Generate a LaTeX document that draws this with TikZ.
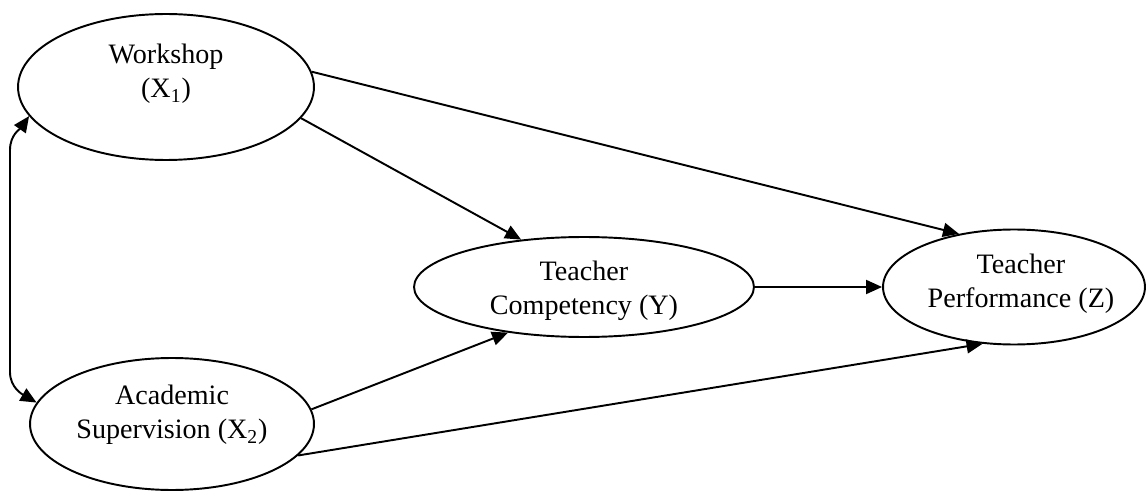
\documentclass[tikz,border=0pt]{standalone}
\usepackage{fontspec}
\setmainfont{Liberation Serif}
\usetikzlibrary{shapes.geometric,arrows.meta}
\tikzset{
  var/.style={draw, ellipse, line width=1.1pt, inner sep=0pt},
  lbl/.style={align=center, font=\fontsize{16}{19.6}\selectfont},
  link/.style={line width=1.1pt, -{Triangle[length=0.32cm,width=0.28cm]}},
  both/.style={line width=1.1pt, {Triangle[length=0.32cm,width=0.28cm]}-{Triangle[length=0.32cm,width=0.28cm]}}
}
\begin{document}
\begin{tikzpicture}[x=0.02cm, y=0.02cm]
\useasboundingbox (0,0) rectangle (1147,491);
% variables
\node[var, minimum width=5.92cm, minimum height=2.92cm] (ws) at (166,404) {};
\node[lbl] (wsl) at ([yshift=0.27cm]ws.center) {Workshop\\(X\textsubscript{1})};
\node[var, minimum width=5.68cm, minimum height=2.64cm] (as) at (172,67) {};
\node[lbl] (asl) at ([yshift=0.18cm]as.center) {Academic\\Supervision (X\textsubscript{2})};
\node[var, minimum width=6.8cm, minimum height=2.0cm] (tc) at (584,204) {};
\node[lbl] (tcl) at ([yshift=-0.07cm]tc.center) {Teacher\\Competency (Y)};
\node[var, minimum width=5.24cm, minimum height=2.3cm] (tp) at (1014,204) {};
\node[lbl] (tpl) at ([xshift=0.14cm,yshift=0.06cm]tp.center) {Teacher\\Performance (Z)};
% paths
\draw[link] (ws.6) -- (tp.136);
\draw[link] (ws.-13) -- (tc.143);
\draw[link] (tc.east) -- (tp.west);
\draw[link] (as.6) -- (tc.211);
\draw[link] (as.-14.5) -- (tp.241.5);
% correlation
\draw[both] (ws.192) to[out=235,in=90] (10,341) -- (10,119) to[out=-90,in=150] (as.171);
\end{tikzpicture}
\end{document}
